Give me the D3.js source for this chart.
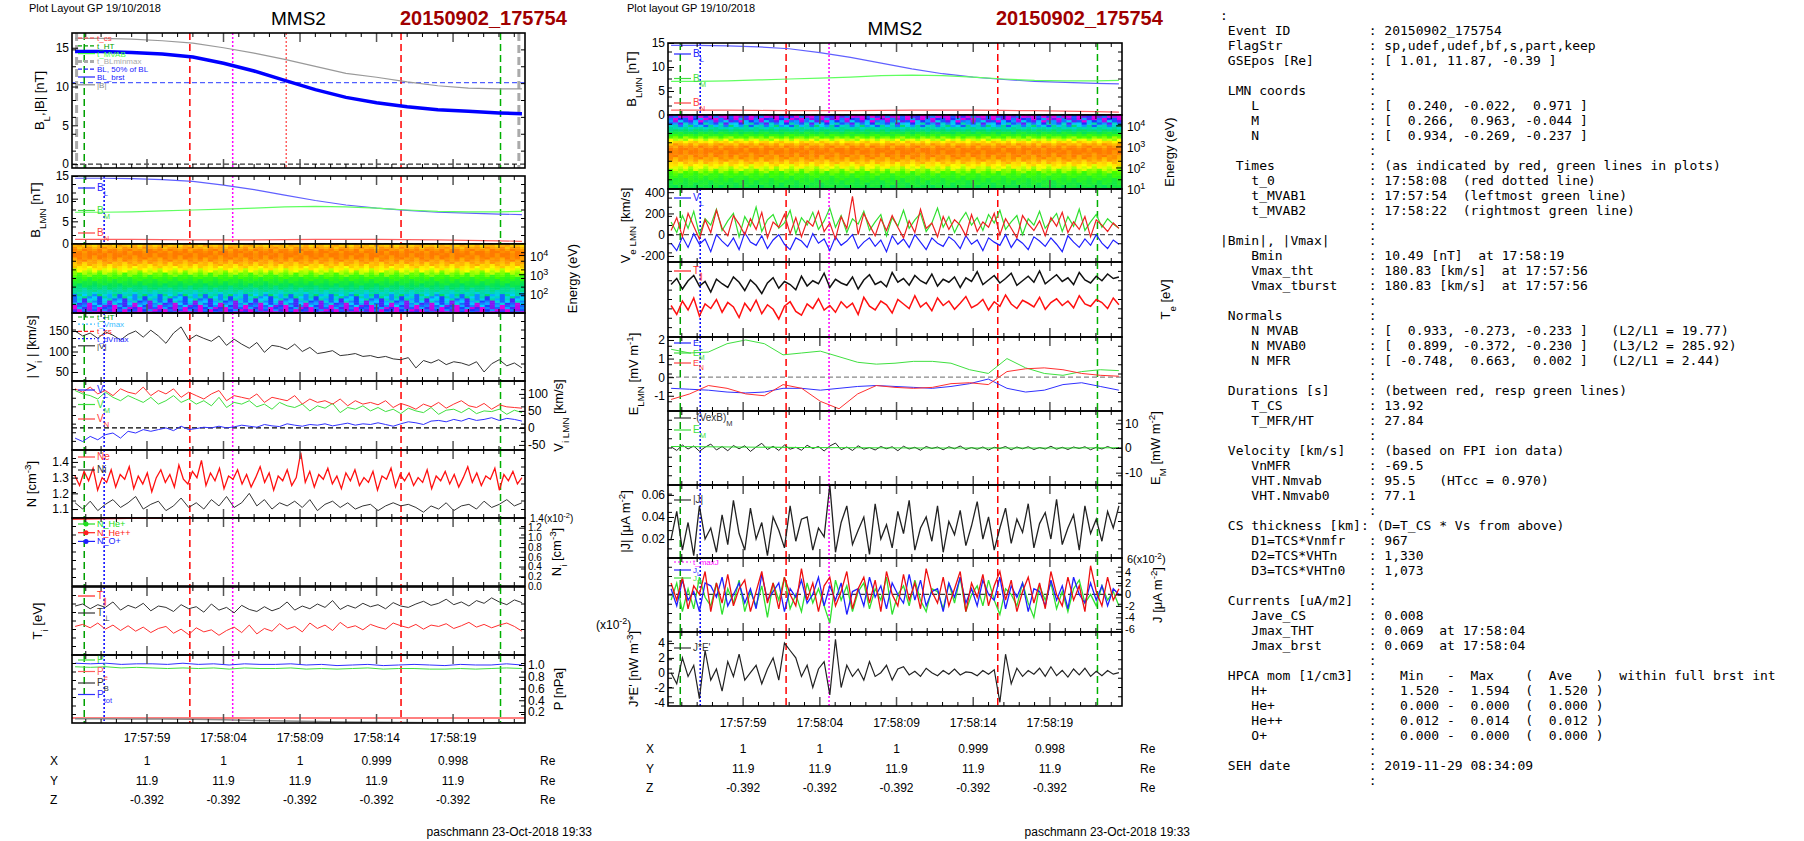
<!DOCTYPE html>
<html>
<head>
<meta charset="utf-8">
<title>MMS2 20150902_175754</title>
<script src="https://d3js.org/d3.v7.min.js"></script>
<style>
  body { margin: 0; background: #fff; }
  text { font-family: "Liberation Sans", Arial, sans-serif; }
  .mono { font-family: "DejaVu Sans Mono", monospace; font-size: 13px; white-space: pre; }
</style>
</head>
<body>
<svg id="chart" width="1804" height="841"></svg>
<script>
// ---------- data (times in seconds after 17:57:00) ----------
const tRange = [54.1, 83.7];
const timeTicks = [59, 64, 69, 74, 79];
const timeLabels = ["17:57:59", "17:58:04", "17:58:09", "17:58:14", "17:58:19"];
const posX = ["1", "1", "1", "0.999", "0.998"];
const posY = ["11.9", "11.9", "11.9", "11.9", "11.9"];
const posZ = ["-0.392", "-0.392", "-0.392", "-0.392", "-0.392"];

const tSmooth = [54.3, 56, 58, 60, 62, 64, 66, 68, 70, 72, 74, 76, 78, 80, 82, 83.5];
const BL   = [14.5, 14.5, 14.4, 14.2, 13.8, 13.0, 12.0, 10.8, 9.6, 8.6, 7.9, 7.4, 7.0, 6.8, 6.6, 6.5];
const Bmag = [16.2, 16.2, 16.1, 15.9, 15.6, 15.0, 14.3, 13.5, 12.6, 11.7, 11.2, 10.6, 10.1, 9.8, 9.7, 9.7];
const BM   = [7.0, 7.0, 7.1, 7.3, 7.5, 7.7, 7.9, 8.2, 8.3, 8.2, 7.9, 7.5, 7.2, 7.1, 7.1, 7.2];
const BN   = [1.0, 1.0, 1.0, 0.95, 0.9, 0.9, 0.9, 0.95, 1.0, 1.0, 1.0, 0.95, 0.9, 0.8, 0.7, 0.6];
const Pb   = [0.084, 0.084, 0.082, 0.080, 0.076, 0.067, 0.057, 0.046, 0.037, 0.029, 0.025, 0.022, 0.019, 0.018, 0.017, 0.017];
const BLhalf = 10.5;

// marker times
const tHT1 = 54.9, tVmax = 56.2, tCS1 = 61.8, tMaxJ = 64.6, tZero = 68.1, tCS2 = 75.6, tHT2 = 82.1;
const tBLmin = 54.4, tBLmax = 83.3;

const Vimag = [150,138,145,132,148,140,128,142,150,135,152,138,120,145,160,128,140,132,125,138,115,130,118,108,122,98,115,112,105,118,100,110,95,98,102,90,92,95,88,90,85,88,82,80,85,60,78,72,80,68,75,72,66,75,50,70,80,65,72,60];
const ViL = [-30,-40,-25,-35,-20,-15,-30,-10,-15,-5,-10,-5,0,-8,5,-5,-2,2,0,5,0,3,8,5,2,10,6,4,12,8,5,10,8,12,6,10,14,8,12,10,15,10,5,12,18,15,10,20,22,18,25,20,28,22,25,30,22,28,25,20];
const ViM = [110,100,95,85,105,90,80,95,85,75,90,70,80,95,75,85,70,80,65,90,60,75,70,80,62,70,55,75,65,60,70,50,65,58,72,45,60,55,65,50,60,48,55,42,58,50,45,60,40,52,55,45,58,42,50,48,55,40,52,45];
const ViN = [115,105,120,100,110,95,115,105,100,120,95,110,100,115,90,105,95,85,100,110,80,95,90,85,100,75,90,85,80,95,70,85,75,80,70,85,65,80,70,75,68,80,60,72,65,55,70,62,75,58,70,80,65,60,72,55,68,62,60,58];

const Ne = [1.31,1.25,1.34,1.28,1.36,1.22,1.30,1.27,1.35,1.24,1.32,1.29,1.37,1.23,1.31,1.26,1.33,1.21,1.30,1.35,1.27,1.32,1.24,1.38,1.29,1.26,1.34,1.30,1.41,1.25,1.33,1.28,1.36,1.23,1.31,1.29,1.35,1.26,1.32,1.24,1.30,1.37,1.27,1.33,1.22,1.31,1.28,1.35,1.25,1.30,1.46,1.27,1.34,1.24,1.32,1.29,1.36,1.26,1.31,1.23,1.33,1.28,1.35,1.25,1.30,1.27,1.34,1.22,1.31,1.29,1.36,1.24,1.32,1.28,1.33,1.25,1.30,1.27,1.35,1.23,1.31,1.28,1.34,1.26,1.32,1.24,1.30,1.37,1.27,1.33,1.25,1.31,1.29,1.36,1.22,1.32,1.28,1.34,1.26,1.30];
const Ni = [1.14,1.10,1.15,1.09,1.13,1.16,1.11,1.14,1.18,1.10,1.13,1.15,1.09,1.12,1.17,1.11,1.14,1.10,1.16,1.12,1.18,1.11,1.14,1.20,1.12,1.16,1.10,1.14,1.12,1.15,1.11,1.16,1.09,1.13,1.15,1.11,1.14,1.10,1.12,1.13,1.09,1.12,1.14,1.12,1.13,1.11,1.08,1.12,1.10,1.14,1.09,1.12,1.13,1.10,1.15,1.11,1.13,1.16,1.12,1.14];
const NHepp = [1.38, 1.4, 1.42];
const tHepp = [54.1, 59, 63];

const TiPerp = [72,75,68,74,70,78,66,73,69,76,65,72,70,64,74,68,71,63,75,66,70,62,73,67,64,71,65,69,78,66,72,68,75,70,80,67,73,69,76,71,74,68,77,72,70,75,79,73,76,82,74,78,72,80,76,84,78,74,81,77];
const TiPar = [42,45,40,47,38,44,36,43,35,41,33,39,42,32,38,30,40,34,37,29,36,41,33,44,31,39,35,46,38,42,34,47,39,44,36,48,40,43,37,45,41,38,47,43,40,45,38,44,42,46,39,43,48,41,45,40,44,47,42,35];

const Ptot = [1.03,1.02,1.03,1.01,1.02,1.02,1.01,1.03,1.01,1.02,1.00,1.02,1.01,1.01,1.02,1.00,1.01,0.99,1.00,1.01,0.99,1.00,1.01,1.00,0.99,1.01,1.00,1.00,1.02,1.00];
const Pi  = [0.97,0.96,0.97,0.95,0.96,0.95,0.94,0.95,0.94,0.95,0.93,0.95,0.94,0.94,0.95,0.93,0.94,0.93,0.94,0.95,0.93,0.94,0.94,0.93,0.93,0.94,0.93,0.94,0.95,0.94];
const Pe  = [0.10, 0.10, 0.10];
const tPe = [54.1, 69, 83.7];

// spectrogram profiles (0..1 intensity per energy bin, lowest energy first)
const ionProfile = [0.05,0.08,0.10,0.14,0.18,0.22,0.26,0.30,0.34,0.38,0.42,0.46,0.50,0.54,0.58,0.62,0.66,0.70,0.74,0.78,0.82,0.86,0.89,0.92,0.95,0.97,0.99,1.0,0.99,0.97,0.94,0.90];
const eleProfile = [0.55,0.56,0.58,0.60,0.62,0.65,0.68,0.72,0.76,0.80,0.84,0.88,0.92,0.95,0.97,0.99,1.0,0.99,0.96,0.92,0.86,0.79,0.72,0.64,0.56,0.48,0.40,0.32,0.24,0.16,0.08,0.03];
const colJitter = [0.02,-0.03,0.01,0.04,-0.02,0.0,-0.04,0.03,-0.01,0.02,-0.03,0.04,0.0,-0.02,0.03,-0.04,0.01];

// middle column series
const EL = [-0.6,-0.65,-0.7,-0.8,-0.85,-0.8,-0.6,-0.6,-0.7,-0.6,-0.5,-0.45,-0.5,-0.55,-0.6,-0.5,-0.35,-0.1,-0.6,-0.8,-0.7,-0.4,-0.3,-0.5,-0.7];
const EM = [1.5,1.3,1.35,1.8,2.0,1.8,1.2,1.3,1.4,1.1,0.8,0.7,0.75,0.85,0.85,0.75,0.4,0.2,1.0,0.5,0.2,0.1,0.3,0.4,0.35];
const EN = [-1.2,-0.9,-0.45,-0.6,-0.9,-1.0,-0.4,-0.6,-1.3,-1.7,-0.9,-0.45,-0.55,-0.6,-0.55,-0.35,-0.3,-0.4,0.3,0.45,0.5,0.4,0.2,0.1,0.05];

const VeL = [-80,-150,-20,-120,10,-90,-40,-160,0,-60,-110,-30,-140,20,-70,-100,-10,-130,-50,0,-90,-140,-30,-60,-120,10,-80,-40,-150,-20,-100,-60,0,-130,-70,-30,-110,-50,-160,-10,-90,-40,-120,0,-70,-140,-30,-80,-110,-20,-60,-130,-10,-90,-50,-150,-30,-70,-100,0,-120,-40,-80,-140,-20,-60,-110,-30,-90,-160,-10,-70,-120,-40,-100,0,-80,-130,-50,-90];
const VeM = [120,20,180,60,220,0,150,90,240,40,130,200,-20,170,80,260,30,140,190,60,110,230,10,160,90,210,50,130,250,70,180,20,150,100,220,40,120,190,-10,160,80,230,60,140,200,30,110,250,70,170,20,130,210,90,160,40,190,110,230,50,120,180,0,150,90,220,60,130,200,30,170,80,240,40,120,190,70,150,100,60];
const VeN = [40,160,-20,200,80,-40,140,20,230,60,-10,180,100,0,150,50,210,-30,120,70,190,10,160,-20,130,80,220,30,110,-40,170,60,360,0,200,90,-10,150,40,180,70,-30,130,20,240,60,110,-20,170,50,140,90,-10,190,30,120,70,200,0,150,60,-30,180,100,40,130,-10,160,80,210,20,120,50,170,-20,140,90,30,110,60];

const TePerp = [70,78,64,75,82,68,74,60,77,71,66,80,73,62,76,69,58,72,79,65,74,70,63,81,68,75,71,85,66,77,72,69,80,64,76,83,70,74,67,86,73,78,69,82,75,71,84,68,77,73,80,66,79,74,87,70,76,82,72,78,85,69,75,81,73,88,71,77,83,74,79,70,86,76,72,81,75,84,78,80];
const TePar = [42,30,48,36,52,28,44,38,50,33,46,40,26,45,35,49,31,43,37,24,41,47,34,29,44,38,51,36,42,33,47,39,45,30,53,41,36,48,43,32,50,44,38,55,40,46,35,52,42,48,37,45,54,39,43,50,36,47,41,56,44,38,49,45,40,53,37,46,51,42,48,39,55,44,41,50,46,38,52,43];

const VexB = [0.5,-1.0,1.2,-0.4,0.8,-1.3,0.3,1.6,-0.8,0.6,-1.1,1.0,-0.3,0.9,-1.4,0.4,1.9,-0.6,0.7,-1.0,1.2,-0.5,0.3,-0.9,1.1,-0.2,0.6,-1.2,0.8,2.0,-0.7,0.4,-1.0,0.9,-0.5,0.2,-0.8,0.6,-0.3,0.5,-1.1,0.7,-0.4,0.3,-0.9,0.6,-0.2,0.4,-0.7,0.5,-0.3,0.8,-0.6,0.2,-0.5,0.4,-0.8,0.3,-0.2,0.6,-0.7,0.4,-0.3,0.5,-0.6,0.2,-0.4,0.7,-0.5,0.3,-0.6,0.4,-0.2,0.5,-0.7,0.3,-0.4,0.6,-0.3,0.2];
const EMsmall = [0.6, 0.4, 0.2, 0.1, 0.0, 0.0, 0.0, 0.1];

const Jmag = [0.02,0.045,0.01,0.035,0.005,0.05,0.02,0.03,0.008,0.042,0.015,0.055,0.025,0.01,0.048,0.02,0.035,0.005,0.04,0.028,0.012,0.05,0.018,0.038,0.04,0.01,0.03,0.022,0.069,0.008,0.035,0.05,0.015,0.028,0.04,0.006,0.052,0.02,0.033,0.012,0.045,0.025,0.055,0.01,0.03,0.04,0.018,0.05,0.008,0.036,0.024,0.046,0.014,0.032,0.054,0.02,0.04,0.01,0.03,0.048,0.016,0.038,0.026,0.052,0.012,0.034,0.044,0.02,0.056,0.015,0.03,0.042,0.01,0.05,0.025,0.038,0.018,0.045,0.03,0.05];
const JL = [1,-2,2.5,-1,0.5,-3,2,1.5,-0.5,3,-2,0,2,-1.5,1,-2.5,3.5,-1,0.5,2,-3,1,-0.5,2.5,-1.5,0,3,-2,1.5,-1,2,-3.5,0.5,1,-2,3,-0.5,1.5,-2.5,2,0,-1.5,3.5,-1,2.5,-2,0.5,1,-3,2,-0.5,3,-1.5,1,-2,2.5,0,-1,3,-2.5,1.5,-0.5,2,-3,1,0.5,-2,2.5,-1,1.5,-2.5,3,0,-1.5,2,-1,1.5,-2,1,0];
const JM = [-1,2,-3,1,-2.5,3,-0.5,-2,2,-3.5,1,-1.5,2.5,-3,0.5,-2,1.5,-4,2,-1,3,-2.5,0,-3,2,-1.5,1,-2,-5,2.5,-1,1.5,-3,0.5,2,-2.5,1,-1,3,-3.5,0,1.5,-2,2.5,-1,-3,1,0.5,-2.5,2,-1.5,3,-3,0,1.5,-2,2.5,-1,-3.5,1,0,-2,2,-1.5,-4,1.5,-1,2,-2.5,0.5,-3,1,2.5,-1.5,0,-2,1.5,-1,0.5,-2];
const JN = [2,-1,3,-2.5,1.5,0,4,-3,2,-1.5,3.5,-2,1,2.5,-3,0.5,4,-1.5,2,-2.5,3,0,-2,4.5,-1,2,-3,1.5,3,-2,0.5,4,-2.5,1,3,-1.5,2.5,-3,4,0,-2,3.5,-1,2,-2.5,4.5,0.5,-1.5,3,-2,1,4,-3,2,-0.5,3.5,-2,1.5,4,-1,2.5,-3,0.5,3,-1.5,2,-2.5,4,0,-2,3,-1,1.5,-3,5,0.5,-2,3,-1,1];
const JE = [0,-1.5,2,-0.5,1,-3.5,3,-1,0.5,-2.5,1.5,-0.5,2.5,-1,0,1,-1.5,0.5,2,-1,4,3,2,-0.5,1,-2,0.5,1.5,-3,4.5,-2,1,-0.5,0.5,-1,1.5,-0.5,0,1,-1,0.5,0.8,-0.3,0.2,-0.5,0.6,0,-0.4,0.3,-0.2,0.5,-0.3,0.1,0,-0.4,0.3,-0.2,0.4,-4,2.5,-1.5,0.6,-0.5,0.3,-0.2,0.6,-0.5,0.8,-0.4,0.3,-0.6,0.5,-0.3,0.6,-0.5,0.2,-0.4,0.3,-0.2,0];

const infoLines = [
  ":",
  " Event ID          : 20150902_175754",
  " FlagStr           : sp,udef,udef,bf,s,part,keep",
  " GSEpos [Re]       : [ 1.01, 11.87, -0.39 ]",
  "                   :",
  " LMN coords        :",
  "    L              : [  0.240, -0.022,  0.971 ]",
  "    M              : [  0.266,  0.963, -0.044 ]",
  "    N              : [  0.934, -0.269, -0.237 ]",
  "                   :",
  "  Times            : (as indicated by red, green lines in plots)",
  "    t_0            : 17:58:08  (red dotted line)",
  "    t_MVAB1        : 17:57:54  (leftmost green line)",
  "    t_MVAB2        : 17:58:22  (rightmost green line)",
  "                   :",
  "|Bmin|, |Vmax|     :",
  "    Bmin           : 10.49 [nT]  at 17:58:19",
  "    Vmax_tht       : 180.83 [km/s]  at 17:57:56",
  "    Vmax_tburst    : 180.83 [km/s]  at 17:57:56",
  "                   :",
  " Normals           :",
  "    N MVAB         : [  0.933, -0.273, -0.233 ]   (L2/L1 = 19.77)",
  "    N MVAB0        : [  0.899, -0.372, -0.230 ]   (L3/L2 = 285.92)",
  "    N MFR          : [ -0.748,  0.663,  0.002 ]   (L2/L1 = 2.44)",
  "                   :",
  " Durations [s]     : (between red, resp green lines)",
  "    T_CS           : 13.92",
  "    T_MFR/HT       : 27.84",
  "                   :",
  " Velocity [km/s]   : (based on FPI ion data)",
  "    VnMFR          : -69.5",
  "    VHT.Nmvab      : 95.5   (HTcc = 0.970)",
  "    VHT.Nmvab0     : 77.1",
  "                   :",
  " CS thickness [km]: (D=T_CS * Vs from above)",
  "    D1=TCS*Vnmfr   : 967",
  "    D2=TCS*VHTn    : 1,330",
  "    D3=TCS*VHTn0   : 1,073",
  "                   :",
  " Currents [uA/m2]  :",
  "    Jave_CS        : 0.008",
  "    Jmax_THT       : 0.069  at 17:58:04",
  "    Jmax_brst      : 0.069  at 17:58:04",
  "                   :",
  " HPCA mom [1/cm3]  :   Min   -  Max    (  Ave   )  within full brst int",
  "    H+             :   1.520 -  1.594  (  1.520 )",
  "    He+            :   0.000 -  0.000  (  0.000 )",
  "    He++           :   0.012 -  0.014  (  0.012 )",
  "    O+             :   0.000 -  0.000  (  0.000 )",
  "                   :",
  " SEH date          : 2019-11-29 08:34:09",
  "                   :"
];

// ---------- drawing ----------
const svg = d3.select("#chart");
const specColor = d3.scaleLinear()
  .domain([0, 0.12, 0.3, 0.5, 0.7, 0.82, 0.92, 1])
  .range(["#e000e0", "#2030ff", "#00d0ff", "#00e060", "#40ff00", "#ffff00", "#ffb000", "#ff7a00"])
  .clamp(true);
let clipId = 0;

function richText(sel, parts) {
  // parts: [text, "n"|"sub"|"sup"]
  parts.forEach(p => {
    const t = sel.append("tspan").text(p[0]);
    if (p[1] === "sub") t.attr("baseline-shift", "sub").attr("font-size", "75%");
    if (p[1] === "sup") t.attr("baseline-shift", "super").attr("font-size", "75%");
  });
}

function makePanel(o) {
  const x = d3.scaleLinear().domain(tRange).range([o.x0, o.x1]);
  const y = (o.log ? d3.scaleLog() : d3.scaleLinear()).domain(o.dom).range([o.y1, o.y0]);
  const g = svg.append("g");
  const id = "clip" + (clipId++);
  svg.append("clipPath").attr("id", id).append("rect")
    .attr("x", o.x0).attr("y", o.y0).attr("width", o.x1 - o.x0).attr("height", o.y1 - o.y0);
  const inner = g.append("g").attr("clip-path", "url(#" + id + ")");
  return { x, y, g, inner, o };
}

function finishPanel(p, opts) {
  const { x, y, g, o } = p;
  // minor / major time ticks top and bottom
  d3.range(55, 84).forEach(t => {
    const major = timeTicks.includes(t);
    const len = major ? 9 : 4;
    [[o.y1, -len], [o.y0, len]].forEach(([yy, dl]) => {
      g.append("line").attr("x1", x(t)).attr("x2", x(t)).attr("y1", yy).attr("y2", yy + dl)
        .attr("stroke", major ? "#555" : "#000").attr("stroke-width", major ? 1.5 : 1);
    });
  });
  if (opts.ticks) {
    const ax = (opts.side === "right" ? d3.axisRight(y) : d3.axisLeft(y))
      .tickValues(opts.ticks).tickSize(-6).tickPadding(3)
      .tickFormat(opts.fmt || (d => d));
    const ag = g.append("g").attr("transform", "translate(" + (opts.side === "right" ? o.x1 : o.x0) + ",0)").call(ax);
    ag.select(".domain").remove();
    ag.selectAll("text").attr("font-size", opts.tfs || 12).attr("font-family", "Liberation Sans");
  }
  // side minor ticks
  [o.x0, o.x1].forEach((sx, k) => {
    const n = 8;
    for (let i = 1; i < n; i++) {
      const yy = o.y0 + (o.y1 - o.y0) * i / n;
      g.append("line").attr("x1", sx).attr("x2", sx + (k === 0 ? 4 : -4)).attr("y1", yy).attr("y2", yy).attr("stroke", "#000");
    }
  });
  g.append("rect").attr("x", o.x0).attr("y", o.y0).attr("width", o.x1 - o.x0).attr("height", o.y1 - o.y0)
    .attr("fill", "none").attr("stroke", "#000").attr("stroke-width", 1.6);
  if (opts.title) {
    const tx = opts.side === "right" || opts.titleRight ? o.x1 + opts.titleOff : o.x0 - opts.titleOff;
    const ty = (o.y0 + o.y1) / 2;
    const t = g.append("text").attr("transform", "translate(" + tx + "," + ty + ") rotate(-90)")
      .attr("text-anchor", "middle").attr("font-size", 13).attr("fill", "#000");
    richText(t, opts.title);
  }
}

function line(p, xs, ys, color, w, dash) {
  const data = ys.map((v, i) => [xs[i], v]);
  p.inner.append("path").datum(data)
    .attr("d", d3.line().x(d => p.x(d[0])).y(d => p.y(d[1])))
    .attr("fill", "none").attr("stroke", color).attr("stroke-width", w || 1)
    .attr("stroke-dasharray", dash || null);
}
function evenTimes(n) {
  const s = d3.scaleLinear().domain([0, n - 1]).range([54.3, 83.5]);
  return d3.range(n).map(s);
}
function hline(p, v, color, dash) {
  p.inner.append("line").attr("x1", p.o.x0).attr("x2", p.o.x1).attr("y1", p.y(v)).attr("y2", p.y(v))
    .attr("stroke", color).attr("stroke-width", 1.2).attr("stroke-dasharray", dash);
}
function vline(p, t, color, dash, w) {
  p.inner.append("line").attr("x1", p.x(t)).attr("x2", p.x(t)).attr("y1", p.o.y0).attr("y2", p.o.y1)
    .attr("stroke", color).attr("stroke-width", w || 1.5).attr("stroke-dasharray", dash);
}
function markers(p) {
  vline(p, tHT1, "#00a000", "7,4");
  vline(p, tVmax, "#0000ff", "2,2");
  vline(p, tCS1, "#ff0000", "7,4");
  vline(p, tMaxJ, "#ff00ff", "2,2");
  vline(p, tCS2, "#ff0000", "7,4");
  vline(p, tHT2, "#00b000", "7,4");
}
function legend(p, items, y0, step, fs) {
  items.forEach((it, i) => {
    const yy = y0 + i * step;
    p.g.append("line").attr("x1", p.o.x0 + 6).attr("x2", p.o.x0 + 23).attr("y1", yy).attr("y2", yy)
      .attr("stroke", it.c).attr("stroke-width", it.w || 1.2).attr("stroke-dasharray", it.dash || null);
    if (it.dot) p.g.append("circle").attr("cx", p.o.x0 + 14).attr("cy", yy).attr("r", 2.5).attr("fill", it.c);
    const t = p.g.append("text").attr("x", p.o.x0 + 25).attr("y", yy + 3)
      .attr("font-size", fs || 10).attr("fill", it.tc || it.c);
    richText(t, it.t);
  });
}
function spectrogram(p, profile, nCols) {
  const nb = profile.length;
  const le = d3.scaleLinear().domain([0, nb]).range([1, Math.log10(p.o.dom[1])]);
  const ts = d3.scaleLinear().domain([0, nCols]).range(tRange);
  for (let c = 0; c < nCols; c++) {
    for (let b = 0; b < nb; b++) {
      const v = profile[b] + colJitter[(c + b * 5) % colJitter.length] * (profile[b] < 0.35 ? 4 : 1);
      p.inner.append("rect")
        .attr("x", p.x(ts(c))).attr("width", p.x(ts(c + 1)) - p.x(ts(c)) + 0.5)
        .attr("y", p.y(Math.pow(10, le(b + 1)))).attr("height", p.y(Math.pow(10, le(b))) - p.y(Math.pow(10, le(b + 1))) + 0.5)
        .attr("fill", specColor(v));
    }
  }
}
function specAxis(p, exps, x) {
  exps.forEach(e => {
    const t = p.g.append("text").attr("x", x).attr("y", p.y(Math.pow(10, e)) + 5).attr("font-size", 12);
    richText(t, [["10", "n"], [String(e), "sup"]]);
    p.g.append("line").attr("x1", p.o.x1).attr("x2", p.o.x1 - 6).attr("y1", p.y(Math.pow(10, e))).attr("y2", p.y(Math.pow(10, e))).attr("stroke", "#000");
  });
}

// ===== LEFT COLUMN =====
const L0 = 72, L1 = 525;
{
  const p = makePanel({ x0: L0, x1: L1, y0: 33, y1: 168, dom: [-0.5, 16.9] });
  hline(p, 0, "#333", "5,3");
  hline(p, BLhalf, "#5060ff", "5,3");
  vline(p, tBLmin, "#aaa", "8,4", 3);
  vline(p, tBLmax, "#aaa", "8,4", 3);
  vline(p, tHT1, "#00a000", "7,4");
  vline(p, tCS1, "#ff0000", "7,4");
  vline(p, tMaxJ, "#ff00ff", "2,2");
  vline(p, tZero, "#ff6060", "2,2");
  vline(p, tCS2, "#ff0000", "7,4");
  vline(p, tHT2, "#00b000", "7,4");
  line(p, tSmooth, Bmag, "#999", 1.2);
  line(p, tSmooth, BL, "#0000ff", 3.5);
  legend(p, [
    { t: [["t_cs", "n"]], c: "#ff4040", dash: "4,2" },
    { t: [["t_HT", "n"]], c: "#00a000", dash: "4,2" },
    { t: [["t_MVAB", "n"]], c: "#40ff40" },
    { t: [["t_BLminmax", "n"]], c: "#aaa", w: 3, dash: "4,2" },
    { t: [["BL, 50% of BL", "n"]], c: "#2020ff", dash: "4,2" },
    { t: [["BL_brst", "n"]], c: "#2020ff" },
    { t: [["|B|", "n"]], c: "#888" }
  ], 38, 7.8, 8);
  finishPanel(p, { ticks: [0, 5, 10, 15], title: [["B", "n"], ["L", "sub"], [",|B| [nT]", "n"]], titleOff: 28 });
}
{
  const p = makePanel({ x0: L0, x1: L1, y0: 176, y1: 244, dom: [0, 15] });
  hline(p, 0, "#333", "5,3");
  markers(p);
  line(p, tSmooth, BL, "#6060ff", 1.2);
  line(p, tSmooth, BM, "#60ff60", 1.2);
  line(p, tSmooth, BN, "#ff6060", 1.2);
  legend(p, [
    { t: [["B", "n"], ["L", "sub"]], c: "#2020ff" },
    { t: [["B", "n"], ["M", "sub"]], c: "#40e040" },
    { t: [["B", "n"], ["N", "sub"]], c: "#ff4040" }
  ], 188, 22.5);
  finishPanel(p, { ticks: [0, 5, 10, 15], title: [["B", "n"], ["LMN", "sub"], [" [nT]", "n"]], titleOff: 32 });
}
{
  const p = makePanel({ x0: L0, x1: L1, y0: 244, y1: 313, dom: [10, 40000], log: true });
  spectrogram(p, ionProfile, 90);
  specAxis(p, [2, 3, 4], L1 + 5);
  finishPanel(p, { title: [["Energy (eV)", "n"]], titleRight: true, titleOff: 52 });
}
{
  const p = makePanel({ x0: L0, x1: L1, y0: 313, y1: 381, dom: [28, 194] });
  markers(p);
  line(p, evenTimes(Vimag.length), Vimag, "#333", 1);
  legend(p, [
    { t: [["t_HT", "n"]], c: "#00a000", dash: "4,2" },
    { t: [["t_Vmax", "n"]], c: "#40c0ff", dash: "2,2" },
    { t: [["t_cs", "n"]], c: "#ff2020", dash: "4,2" },
    { t: [["t_dVmax", "n"]], c: "#2020ff", dash: "2,2" },
    { t: [["|V|", "n"]], c: "#333" }
  ], 317, 7.2, 8);
  finishPanel(p, { ticks: [50, 100, 150], title: [["| V", "n"], ["i", "sub"], [" | [km/s]", "n"]], titleOff: 36 });
}
{
  const p = makePanel({ x0: L0, x1: L1, y0: 381, y1: 450, dom: [-65, 138] });
  hline(p, 0, "#000", "5,3");
  markers(p);
  const ts = evenTimes(ViL.length);
  line(p, ts, ViM, "#40e040", 1);
  line(p, ts, ViN, "#ff3030", 1);
  line(p, ts, ViL, "#3030ff", 1);
  legend(p, [
    { t: [["V", "n"], ["L", "sub"]], c: "#2020ff" },
    { t: [["V", "n"], ["M", "sub"]], c: "#40e040" },
    { t: [["V", "n"], ["N", "sub"]], c: "#ff4040" }
  ], 390, 14.5);
  finishPanel(p, { side: "right", ticks: [-50, 0, 50, 100], title: [["V", "n"], ["i LMN", "sub"], [" [km/s]", "n"]], titleOff: 38 });
}
{
  const p = makePanel({ x0: L0, x1: L1, y0: 450, y1: 518, dom: [1.043, 1.476] });
  markers(p);
  line(p, evenTimes(Ne.length), Ne, "#ff1010", 1.3);
  line(p, evenTimes(Ni.length), Ni, "#333", 1);
  legend(p, [
    { t: [["Ne", "n"]], c: "#ff4040" },
    { t: [["Ni", "n"]], c: "#333" }
  ], 457, 13);
  finishPanel(p, { ticks: [1.1, 1.2, 1.3, 1.4], fmt: d3.format(".1f"), title: [["N [cm", "n"], ["-3", "sup"], ["]", "n"]], titleOff: 36 });
}
{
  const p = makePanel({ x0: L0, x1: L1, y0: 518, y1: 586, dom: [0, 1.4] });
  markers(p);
  line(p, tHepp, NHepp, "#ff0000", 1.5);
  legend(p, [
    { t: [["N_He+", "n"]], c: "#20e020", dot: true },
    { t: [["N_He++", "n"]], c: "#ff2020", dot: true },
    { t: [["N_O+", "n"]], c: "#2020ff", dot: true }
  ], 524, 8.7, 9);
  finishPanel(p, { side: "right", ticks: [0, 0.2, 0.4, 0.6, 0.8, 1.0, 1.2], fmt: d3.format(".1f"), tfs: 10, title: [["N", "n"], ["i", "sub"], [" [cm", "n"], ["-3", "sup"], ["]", "n"]], titleOff: 36 });
  const t = p.g.append("text").attr("x", L1 + 5).attr("y", 522).attr("font-size", 10);
  richText(t, [["1.4(x10", "n"], ["-2", "sup"], [")", "n"]]);
}
{
  const p = makePanel({ x0: L0, x1: L1, y0: 587, y1: 655, dom: [0, 100] });
  markers(p);
  const ts = evenTimes(TiPerp.length);
  line(p, ts, TiPerp, "#333", 1);
  line(p, ts, TiPar, "#ff3030", 1);
  legend(p, [
    { t: [["T", "n"], ["\u2225", "sub"]], c: "#ff2020" },
    { t: [["T", "n"], ["\u22a5", "sub"]], c: "#333" }
  ], 596, 17);
  finishPanel(p, { title: [["T", "n"], ["i", "sub"], [" [eV]", "n"]], titleOff: 30 });
}
{
  const p = makePanel({ x0: L0, x1: L1, y0: 655, y1: 723, dom: [0.013, 1.17] });
  markers(p);
  const ts = evenTimes(Ptot.length);
  line(p, ts, Ptot, "#3030ff", 1);
  line(p, ts, Pi, "#40e040", 1);
  line(p, tPe, Pe, "#ff8080", 2);
  line(p, tSmooth, Pb, "#888", 1.5);
  legend(p, [
    { t: [["P", "n"], ["i", "sub"]], c: "#40e040" },
    { t: [["P", "n"], ["e", "sub"]], c: "#ff6060" },
    { t: [["P", "n"], ["B", "sub"]], c: "#333" },
    { t: [["P", "n"], ["tot", "sub"]], c: "#3030ff" }
  ], 660, 11.5);
  finishPanel(p, { side: "right", ticks: [0.2, 0.4, 0.6, 0.8, 1.0], fmt: d3.format(".1f"), title: [["P [nPa]", "n"]], titleOff: 38 });
}

// ===== MIDDLE COLUMN =====
const M0 = 668, M1 = 1122;
{
  const p = makePanel({ x0: M0, x1: M1, y0: 43, y1: 115, dom: [0, 15] });
  hline(p, 0, "#333", "5,3");
  markers(p);
  line(p, tSmooth, BL, "#6060ff", 1.2);
  line(p, tSmooth, BM, "#60ff60", 1.2);
  line(p, tSmooth, BN, "#ff6060", 1.2);
  legend(p, [
    { t: [["B", "n"], ["L", "sub"]], c: "#2020ff" },
    { t: [["B", "n"], ["M", "sub"]], c: "#40e040" },
    { t: [["B", "n"], ["N", "sub"]], c: "#ff4040" }
  ], 54, 24.5);
  finishPanel(p, { ticks: [0, 5, 10, 15], title: [["B", "n"], ["LMN", "sub"], [" [nT]", "n"]], titleOff: 32 });
}
{
  const p = makePanel({ x0: M0, x1: M1, y0: 115, y1: 189, dom: [10, 33000], log: true });
  spectrogram(p, eleProfile, 90);
  specAxis(p, [1, 2, 3, 4], M1 + 5);
  finishPanel(p, { title: [["Energy (eV)", "n"]], titleRight: true, titleOff: 52 });
}
{
  const p = makePanel({ x0: M0, x1: M1, y0: 189, y1: 262, dom: [-257, 430] });
  hline(p, 0, "#555", "5,3");
  markers(p);
  const ts = evenTimes(VeL.length);
  line(p, ts, VeM, "#30e030", 1.2);
  line(p, ts, VeL, "#2020ff", 1.2);
  line(p, ts, VeN, "#ee2020", 1.2);
  legend(p, [{ t: [["V", "n"], ["L", "sub"]], c: "#2020ff" }], 198, 10);
  finishPanel(p, { ticks: [-200, 0, 200, 400], title: [["V", "n"], ["e LMN", "sub"], [" [km/s]", "n"]], titleOff: 38 });
}
{
  const p = makePanel({ x0: M0, x1: M1, y0: 262, y1: 337, dom: [0, 100] });
  markers(p);
  const ts = evenTimes(TePerp.length);
  line(p, ts, TePerp, "#111", 1.5);
  line(p, ts, TePar, "#ff1010", 1.5);
  legend(p, [{ t: [["T", "n"], ["\u2225", "sub"]], c: "#ff2020" }], 271, 10);
  finishPanel(p, { title: [["T", "n"], ["e", "sub"], [" [eV]", "n"]], titleRight: true, titleOff: 48 });
}
{
  const p = makePanel({ x0: M0, x1: M1, y0: 337, y1: 411, dom: [-1.82, 2.16] });
  hline(p, 0, "#888", "5,3");
  markers(p);
  const ts = evenTimes(EL.length);
  line(p, ts, EM, "#40e040", 1);
  line(p, ts, EL, "#3030ff", 1);
  line(p, ts, EN, "#ff3030", 1);
  legend(p, [
    { t: [["E", "n"], ["L", "sub"]], c: "#2020ff" },
    { t: [["E", "n"], ["M", "sub"]], c: "#40e040" },
    { t: [["E", "n"], ["N", "sub"]], c: "#ff4040" }
  ], 343, 10, 9);
  finishPanel(p, { ticks: [-1, 0, 1, 2], title: [["E", "n"], ["LMN", "sub"], ["  [mV m", "n"], ["-1", "sup"], ["]", "n"]], titleOff: 30 });
}
{
  const p = makePanel({ x0: M0, x1: M1, y0: 411, y1: 485, dom: [-15, 15] });
  markers(p);
  line(p, evenTimes(VexB.length), VexB, "#222", 1);
  line(p, evenTimes(EMsmall.length), EMsmall, "#30e030", 1.2);
  legend(p, [
    { t: [["-(VexB)", "n"], ["M", "sub"]], c: "#333" },
    { t: [["E", "n"], ["M", "sub"]], c: "#40e040" }
  ], 418, 12);
  finishPanel(p, { side: "right", ticks: [-10, 0, 10], title: [["E", "n"], ["M", "sub"], [" [mW m", "n"], ["-2", "sup"], ["]", "n"]], titleOff: 38 });
}
{
  const p = makePanel({ x0: M0, x1: M1, y0: 485, y1: 558, dom: [0.0028, 0.069] });
  markers(p);
  line(p, evenTimes(Jmag.length), Jmag, "#222", 1.3);
  legend(p, [{ t: [["|J|", "n"]], c: "#333" }], 500, 10);
  finishPanel(p, { ticks: [0.02, 0.04, 0.06], fmt: d3.format(".2f"), title: [["|J| [\u03bcA m", "n"], ["-2", "sup"], ["]", "n"]], titleOff: 38 });
}
{
  const p = makePanel({ x0: M0, x1: M1, y0: 558, y1: 632, dom: [-6.55, 6.35] });
  hline(p, 0, "#333", "5,3");
  markers(p);
  const ts = evenTimes(JL.length);
  line(p, ts, JM, "#30e030", 1.3);
  line(p, ts, JL, "#2020ff", 1.3);
  line(p, ts, JN, "#ee1010", 1.3);
  legend(p, [
    { t: [["t_maxJ", "n"]], c: "#ff00ff", dash: "2,2" },
    { t: [["J", "n"], ["L", "sub"]], c: "#2020ff" },
    { t: [["J", "n"], ["M", "sub"]], c: "#40e040" }
  ], 562, 8, 8);
  finishPanel(p, { side: "right", ticks: [-6, -4, -2, 0, 2, 4], tfs: 11, title: [["J [\u03bcA m", "n"], ["-2", "sup"], ["]", "n"]], titleOff: 40 });
  const t = p.g.append("text").attr("x", M1 + 5).attr("y", 563).attr("font-size", 11);
  richText(t, [["6(x10", "n"], ["-2", "sup"], [")", "n"]]);
}
{
  const p = makePanel({ x0: M0, x1: M1, y0: 632, y1: 706, dom: [-4.5, 5.5] });
  markers(p);
  line(p, evenTimes(JE.length), JE, "#222", 1.2);
  legend(p, [{ t: [["J*E'", "n"]], c: "#333" }], 648, 10);
  finishPanel(p, { ticks: [-4, -2, 0, 2, 4], title: [["J*E' [nW m", "n"], ["-3", "sup"], ["]", "n"]], titleOff: 30 });
  const t = p.g.append("text").attr("x", M0 - 72).attr("y", 629).attr("font-size", 12);
  richText(t, [["(x10", "n"], ["-2", "sup"], [")", "n"]]);
}

// ---------- headers, time axis, position rows, footers ----------
function header(x0, x1, layoutText, left, mmsY, labY, rowY, xLab, xRe) {
  const x = d3.scaleLinear().domain(tRange).range([x0, x1]);
  svg.append("text").attr("x", left).attr("y", 12).attr("font-size", 11).text(layoutText);
  svg.append("text").attr("x", (x0 + x1) / 2).attr("y", mmsY).attr("font-size", 19).attr("text-anchor", "middle").text("MMS2");
  timeTicks.forEach((t, i) => {
    svg.append("text").attr("x", x(t)).attr("y", labY).attr("text-anchor", "middle").attr("font-size", 12).text(timeLabels[i]);
    [posX, posY, posZ].forEach((arr, k) => {
      svg.append("text").attr("x", x(t)).attr("y", rowY[k]).attr("text-anchor", "middle").attr("font-size", 12).text(arr[i]);
    });
  });
  ["X", "Y", "Z"].forEach((s, k) => {
    svg.append("text").attr("x", xLab).attr("y", rowY[k]).attr("font-size", 12).text(s);
    svg.append("text").attr("x", xRe).attr("y", rowY[k]).attr("font-size", 12).text("Re");
  });
}
header(L0, L1, "Plot Layout GP 19/10/2018", 29, 25, 742, [765, 785, 804], 50, 540);
header(M0, M1, "Plot layout GP 19/10/2018", 627, 35, 727, [753, 773, 792], 646, 1140);
svg.append("text").attr("x", 400).attr("y", 25).attr("font-size", 20).attr("font-weight", "bold").attr("fill", "#a00000").text("20150902_175754");
svg.append("text").attr("x", 996).attr("y", 25).attr("font-size", 20).attr("font-weight", "bold").attr("fill", "#a00000").text("20150902_175754");
svg.append("text").attr("x", 592).attr("y", 836).attr("text-anchor", "end").attr("font-size", 12).text("paschmann 23-Oct-2018 19:33");
svg.append("text").attr("x", 1190).attr("y", 836).attr("text-anchor", "end").attr("font-size", 12).text("paschmann 23-Oct-2018 19:33");

// ---------- info text ----------
svg.append("g").selectAll("text").data(infoLines).join("text")
  .attr("class", "mono").attr("x", 1220).attr("y", (d, i) => 20 + i * 15)
  .attr("xml:space", "preserve").text(d => d);
</script>
</body>
</html>
